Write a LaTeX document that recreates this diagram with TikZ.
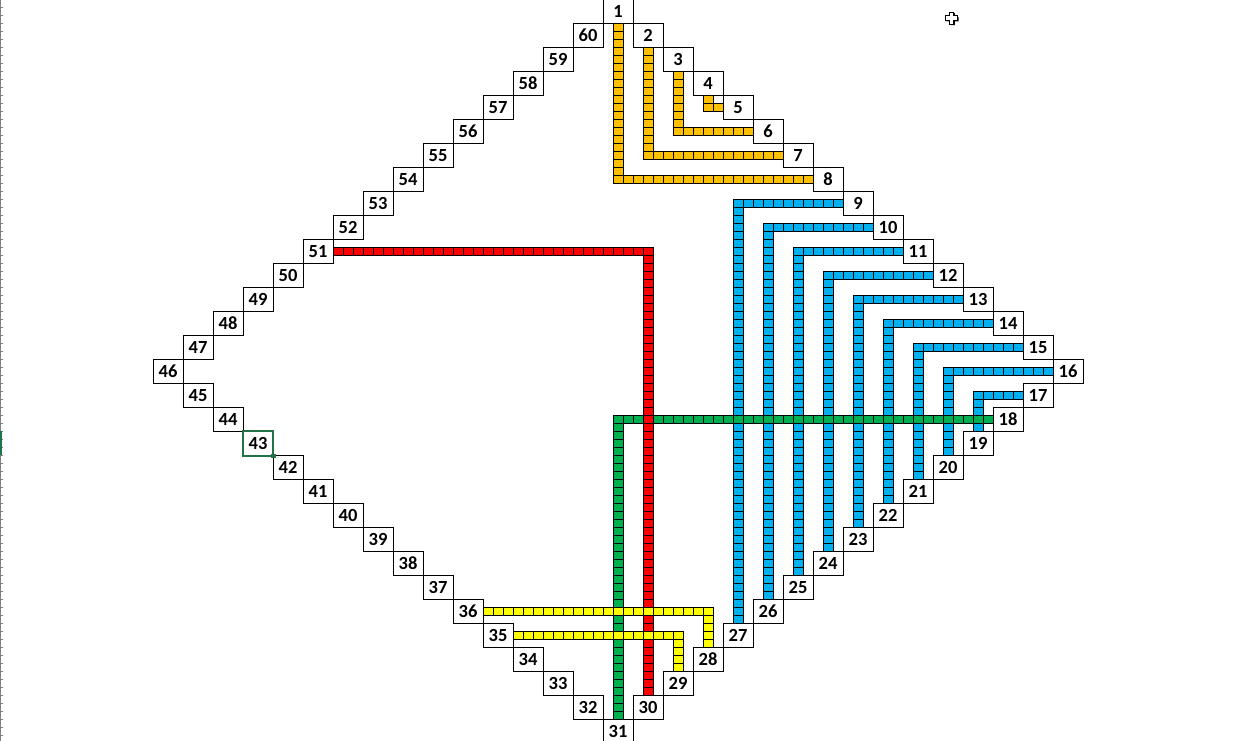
\documentclass[tikz,border=0pt]{standalone}
\usepackage{fontspec}
\setmainfont{Carlito}
\usepackage{xcolor}
\definecolor{xlorange}{HTML}{FFC000}
\definecolor{xlblue}{HTML}{00B0F0}
\definecolor{xlgreen}{HTML}{00B050}
\definecolor{xlred}{HTML}{FF0000}
\definecolor{xlyellow}{HTML}{FFFF00}
\definecolor{selgreen}{HTML}{217346}

\tikzset{
    numbox/.style={draw, line width=0.9pt, fill=white, minimum width=30pt, minimum height=24pt, inner sep=0pt,
        font=\fontsize{18.5}{18.5}\selectfont\bfseries},
    tinycell/.style={draw, line width=0.9pt},
}

% one run of small cells, across or down
\newcommand{\hcells}[4]{\foreach \i in {#3,...,#4} \draw[tinycell, fill=#1] (\i,#2) rectangle ++(1,1);}
\newcommand{\vcells}[4]{\foreach \j in {#3,...,#4} \draw[tinycell, fill=#1] (#2,\j) rectangle ++(1,1);}

\begin{document}
\begin{tikzpicture}[x=10pt, y=-8pt]
    \useasboundingbox (-15.3,0.0875) rectangle (108.2,92.71);
    \fill[white] (-15.3,0.0875) rectangle (108.2,92.71);

    % sheet edge
    \draw[gray, line width=1pt] (-15.2,0) -- (-15.2,93);
    \foreach \j in {0,...,92} \draw[gray, line width=0.6pt] (-15.3,\j) -- (-15.0,\j);
    \fill[selgreen] (-15.3,54) rectangle (-15.05,57);

    % orange
    \foreach \a in {1,...,4} {
        \pgfmathtruncatemacro{\pb}{9-\a}
        \pgfmathtruncatemacro{\ix}{43+3*\a}
        \pgfmathtruncatemacro{\jtop}{3*\a}
        \pgfmathtruncatemacro{\jbot}{3*\pb-2}
        \pgfmathtruncatemacro{\iend}{41+3*\pb}
        \vcells{xlorange}{\ix}{\jtop}{\jbot}
        \hcells{xlorange}{\jbot}{\ix}{\iend}
    }

    % blue
    \foreach \a in {9,...,17} {
        \pgfmathtruncatemacro{\pb}{36-\a}
        \pgfmathtruncatemacro{\ix}{3*(46-\pb)+1}
        \pgfmathtruncatemacro{\jrow}{3*\a-2}
        \pgfmathtruncatemacro{\iend}{3*(30-abs(\a-16))-1}
        \pgfmathtruncatemacro{\jend}{3*\pb-4}
        \hcells{xlblue}{\jrow}{\ix}{\iend}
        \vcells{xlblue}{\ix}{\jrow}{\jend}
    }

    % green
    \hcells{xlgreen}{52}{46}{83}
    \vcells{xlgreen}{46}{52}{89}

    % red
    \hcells{xlred}{31}{18}{49}
    \vcells{xlred}{49}{31}{86}

    % yellow
    \hcells{xlyellow}{76}{33}{55}
    \vcells{xlyellow}{55}{76}{80}
    \hcells{xlyellow}{79}{36}{52}
    \vcells{xlyellow}{52}{79}{83}

    % numbered cells
    \foreach \k in {1,...,60} {
        \ifnum\k<32
            \pgfmathtruncatemacro{\cellrow}{\k-1}
            \pgfmathtruncatemacro{\cellcol}{30-abs(\k-16)}
        \else
            \pgfmathtruncatemacro{\cellrow}{61-\k}
            \pgfmathtruncatemacro{\cellcol}{abs(\k-46)}
        \fi
        \node[numbox] (c\k) at (3*\cellcol+1.5, 3*\cellrow+1.5) {\k};
    }

    % selected cell
    \draw[selgreen, line width=2pt] (c43.north west) rectangle (c43.south east);
    \node[fill=selgreen, minimum size=4.5pt, inner sep=0pt] (handle) at (c43.south east) {};

    % cursor
    \begin{scope}[shift={(79.85,2.34)}, x=1pt, y=1pt]
        \fill[black, shift={(1.2,-1.2)}] (-2.2,6) -- (2.2,6) -- (2.2,2.2) -- (6,2.2) -- (6,-2.2) -- (2.2,-2.2) -- (2.2,-6) -- (-2.2,-6) -- (-2.2,-2.2) -- (-6,-2.2) -- (-6,2.2) -- (-2.2,2.2) -- cycle;
        \draw[fill=white, line width=1pt] (-2.2,6) -- (2.2,6) -- (2.2,2.2) -- (6,2.2) -- (6,-2.2) -- (2.2,-2.2) -- (2.2,-6) -- (-2.2,-6) -- (-2.2,-2.2) -- (-6,-2.2) -- (-6,2.2) -- (-2.2,2.2) -- cycle;
    \end{scope}
\end{tikzpicture}
\end{document}
